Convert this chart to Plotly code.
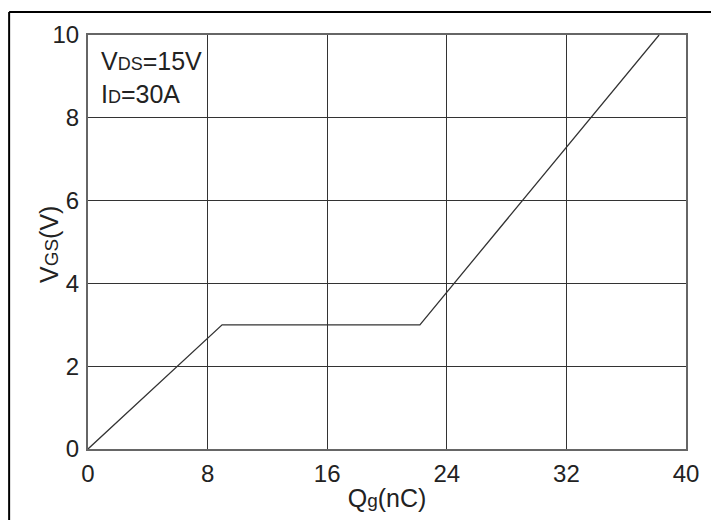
import plotly.graph_objects as go

# Gate charge curve: gate-source voltage vs total gate charge
qg_nc = [0, 8.97, 22.2, 38.2]
vgs_v = [0, 3, 3, 10]

x_ticks = [0, 8, 16, 24, 32, 40]
y_ticks = [0, 2, 4, 6, 8, 10]

FONT = "Liberation Sans, Arial, sans-serif"
TXT = "#222222"

fig = go.Figure()
fig.add_trace(go.Scatter(
    x=qg_nc, y=vgs_v, mode="lines",
    line=dict(color="#333333", width=1.3),
    hoverinfo="skip", showlegend=False,
))

axis_common = dict(
    showgrid=True, gridcolor="#333333", gridwidth=1,
    zeroline=False,
    showline=True, linecolor="#666666", linewidth=2, mirror=True,
    ticks="", tickfont=dict(family=FONT, size=24, color=TXT),
)

fig.update_xaxes(
    range=[0, 40], tickvals=x_ticks, ticktext=[str(v) for v in x_ticks],
    ticklabelstandoff=2,
    title=dict(text="Q<span style='font-size:19px'>g</span>(nC)",
               font=dict(family=FONT, size=25, color=TXT), standoff=4),
    **axis_common,
)
fig.update_yaxes(
    range=[0, 10], tickvals=y_ticks, ticktext=[str(v) for v in y_ticks],
    ticklabelstandoff=2,
    **axis_common,
)

L, R, T, B = 88, 24, 35, 69
pw, ph = 711 - L - R, 520 - T - B

# Y-axis title, placed close to the tick labels
fig.add_annotation(
    x=(49 - L) / pw, y=(ph + T - 246) / ph, xref="paper", yref="paper",
    xanchor="center", yanchor="middle", textangle=-90,
    text="V<span style='font-size:19px'>GS</span>(V)", showarrow=False,
    font=dict(family=FONT, size=25, color=TXT),
)

# Test condition labels in the upper-left cell
fig.add_annotation(
    x=0.018, y=0.975, xref="paper", yref="paper", xanchor="left", yanchor="top",
    text="V<span style='font-size:18px'>DS</span>=15V", showarrow=False,
    font=dict(family=FONT, size=25, color=TXT),
)
fig.add_annotation(
    x=0.018, y=0.895, xref="paper", yref="paper", xanchor="left", yanchor="top",
    text="I<span style='font-size:18px'>D</span>=30A", showarrow=False,
    font=dict(family=FONT, size=25, color=TXT),
)

# Outer frame (left and top edges)
fx = (9 - L) / pw
fy = (ph + T - 12) / ph
fig.add_shape(type="line", xref="paper", yref="paper",
              x0=fx, x1=fx, y0=-0.5, y1=fy, line=dict(color="#000000", width=2))
fig.add_shape(type="line", xref="paper", yref="paper",
              x0=fx, x1=1.2, y0=fy, y1=fy, line=dict(color="#000000", width=2))

fig.update_layout(
    width=711, height=520,
    margin=dict(l=L, r=R, t=T, b=B),
    paper_bgcolor="white", plot_bgcolor="white",
    font=dict(family=FONT, color=TXT),
)

fig.write_html("out.html")
